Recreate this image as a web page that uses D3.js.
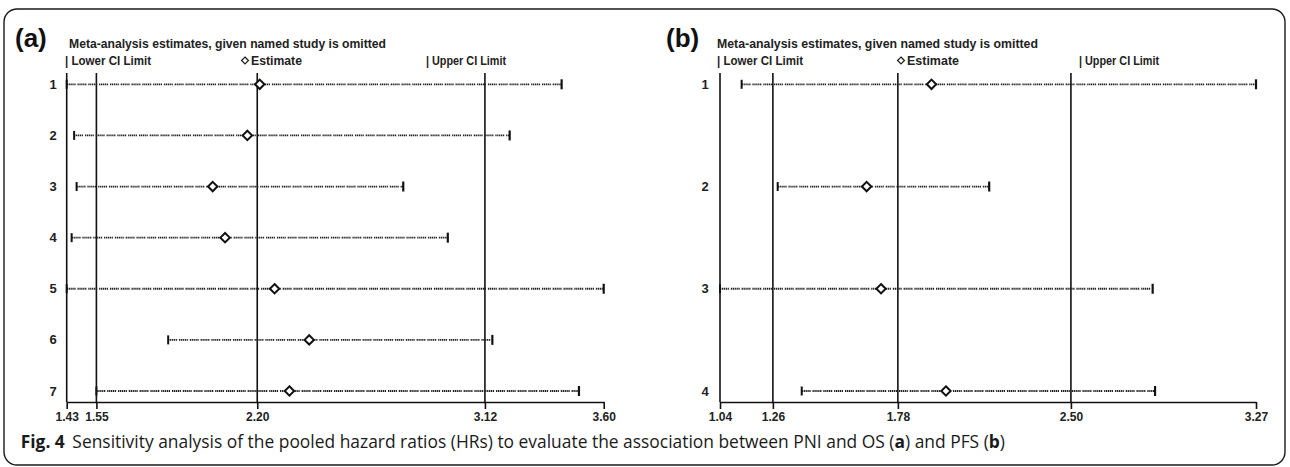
<!DOCTYPE html>
<html>
<head>
<meta charset="utf-8">
<script src="https://cdn.jsdelivr.net/npm/d3@7"></script>
<style>
  html, body { margin: 0; padding: 0; background: #fff; }
  svg { display: block; }
</style>
</head>
<body>
<svg id="chart" width="1290" height="467"></svg>
<script>
// ---------- DATA ----------
const studiesA = ["1", "2", "3", "4", "5", "6", "7"];
const lowerA   = [1.43, 1.46, 1.47, 1.45, 1.43, 1.84, 1.55];
const estA     = [2.21, 2.16, 2.02, 2.07, 2.27, 2.41, 2.33];
const upperA   = [3.43, 3.22, 2.79, 2.97, 3.60, 3.15, 3.50];
const ticksA   = [1.43, 1.55, 2.20, 3.12, 3.60];
const refsA    = [1.55, 2.20, 3.12];

const studiesB = ["1", "2", "3", "4"];
const lowerB   = [1.13, 1.28, 1.04, 1.38];
const estB     = [1.92, 1.65, 1.71, 1.98];
const upperB   = [3.27, 2.16, 2.84, 2.85];
const ticksB   = [1.04, 1.26, 1.78, 2.50, 3.27];
const refsB    = [1.26, 1.78, 2.50];

const headerText = "Meta-analysis estimates, given named study is omitted";
const legendLabels = ["Lower CI Limit", "Estimate", "Upper CI Limit"];

// ---------- DRAW ----------
const svg = d3.select("#chart");
const FONT = "'Liberation Sans', Arial, sans-serif";

// outer rounded frame
svg.append("rect")
  .attr("x", 4).attr("y", 9).attr("width", 1281).attr("height", 456)
  .attr("rx", 13).attr("ry", 13)
  .attr("fill", "none").attr("stroke", "#1a1a1a").attr("stroke-width", 1.4);

function panel(cfg) {
  const g = svg.append("g");
  const x = d3.scaleLinear().domain(cfg.domain).range(cfg.xRange);
  const y = d3.scalePoint().domain(cfg.studies).range([84.3, 391]);
  const top = 73, axisY = 402;

  // panel letter
  g.append("text").attr("x", cfg.letterX).attr("y", 47)
    .attr("font-family", FONT).attr("font-weight", "bold").attr("font-size", 26)
    .attr("fill", "#111").text(cfg.letter);

  // header
  g.append("text").attr("x", cfg.headX).attr("y", 48)
    .attr("font-family", FONT).attr("font-weight", "bold").attr("font-size", 12)
    .attr("fill", "#222")
    .attr("textLength", cfg.headW).attr("lengthAdjust", "spacingAndGlyphs")
    .text(headerText);

  // legend
  const leg = cfg.legend;
  g.append("text").attr("x", leg[0][0]).attr("y", 64.5)
    .attr("font-family", FONT).attr("font-weight", "bold").attr("font-size", 12).attr("fill", "#222")
    .attr("textLength", leg[0][1]).attr("lengthAdjust", "spacingAndGlyphs")
    .text("| " + legendLabels[0]);
  g.append("path")
    .attr("d", d3.symbol(d3.symbolDiamond2, 30)())
    .attr("transform", `translate(${leg[1][0] + 4},${60.5})`)
    .attr("fill", "#fff").attr("stroke", "#222").attr("stroke-width", 1.3);
  g.append("text").attr("x", leg[1][0] + 10).attr("y", 64.5)
    .attr("font-family", FONT).attr("font-weight", "bold").attr("font-size", 12).attr("fill", "#222")
    .attr("textLength", leg[1][1] - 10).attr("lengthAdjust", "spacingAndGlyphs")
    .text(legendLabels[1]);
  g.append("text").attr("x", leg[2][0]).attr("y", 64.5)
    .attr("font-family", FONT).attr("font-weight", "bold").attr("font-size", 12).attr("fill", "#222")
    .attr("textLength", leg[2][1]).attr("lengthAdjust", "spacingAndGlyphs")
    .text("| " + legendLabels[2]);

  // left axis line
  g.append("line")
    .attr("x1", x(cfg.domain[0])).attr("x2", x(cfg.domain[0]))
    .attr("y1", top).attr("y2", axisY)
    .attr("stroke", "#111").attr("stroke-width", 1.6);

  // reference lines
  g.selectAll(".ref").data(cfg.refs).join("line")
    .attr("x1", d => x(d)).attr("x2", d => x(d))
    .attr("y1", top).attr("y2", axisY)
    .attr("stroke", "#111").attr("stroke-width", 1.6);

  // bottom axis
  const ax = g.append("g").attr("transform", `translate(0,${axisY})`)
    .call(d3.axisBottom(x).tickValues(cfg.ticks).tickSize(7).tickSizeOuter(0)
      .tickFormat(d3.format(".2f")));
  ax.select(".domain").attr("stroke", "#111").attr("stroke-width", 1.6);
  ax.selectAll(".tick line").attr("stroke", "#111").attr("stroke-width", 1.6);
  ax.selectAll(".tick text")
    .attr("font-family", FONT).attr("font-weight", "bold").attr("font-size", 12)
    .attr("fill", "#222").attr("y", 10);

  // rows
  const rows = cfg.studies.map((s, i) => ({ s, lo: cfg.lower[i], est: cfg.est[i], hi: cfg.upper[i] }));
  const r = g.selectAll(".row").data(rows).join("g");

  r.append("line")
    .attr("x1", d => x(d.lo)).attr("x2", d => x(d.hi))
    .attr("y1", d => y(d.s)).attr("y2", d => y(d.s))
    .attr("stroke", "#222").attr("stroke-width", 1.8)
    .attr("stroke-dasharray", "1.3,0.6,1.3,0.6,1.3,0.6,1.3,0.6,1.3,1.9");

  r.append("line")
    .attr("x1", d => x(d.lo)).attr("x2", d => x(d.lo))
    .attr("y1", d => y(d.s) - 4.5).attr("y2", d => y(d.s) + 4.5)
    .attr("stroke", "#111").attr("stroke-width", 2);
  r.append("line")
    .attr("x1", d => x(d.hi)).attr("x2", d => x(d.hi))
    .attr("y1", d => y(d.s) - 5).attr("y2", d => y(d.s) + 5)
    .attr("stroke", "#111").attr("stroke-width", 2.2);

  r.append("path")
    .attr("d", d3.symbol(d3.symbolDiamond2, 56)())
    .attr("transform", d => `translate(${x(d.est)},${y(d.s)})`)
    .attr("fill", "#fff").attr("stroke", "#111").attr("stroke-width", 2);

  r.append("text")
    .attr("x", cfg.labelX).attr("y", d => y(d.s) + 4.5)
    .attr("text-anchor", "middle")
    .attr("font-family", FONT).attr("font-weight", "bold").attr("font-size", 13)
    .attr("fill", "#222").text(d => d.s);
}

panel({
  letter: "(a)", letterX: 15, headX: 69, headW: 317,
  legend: [[65, 86], [241, 61], [426, 80]],
  studies: studiesA, lower: lowerA, est: estA, upper: upperA,
  domain: [1.43, 3.60], xRange: [66.7, 603.7],
  ticks: ticksA, refs: refsA, labelX: 53
});

panel({
  letter: "(b)", letterX: 666, headX: 717, headW: 321,
  legend: [[717, 86], [897, 62], [1079, 80]],
  studies: studiesB, lower: lowerB, est: estB, upper: upperB,
  domain: [1.04, 3.27], xRange: [720, 1256],
  ticks: ticksB, refs: refsB, labelX: 705
});

// caption
const CAP_FONT = "'Open Sans', 'Noto Sans', sans-serif";
const capG = svg.append("g");
const probe = capG.append("text").attr("font-family", CAP_FONT).attr("font-size", 18.5)
  .text("Sensitivity analysis of the");
const probeW = probe.node().getComputedTextLength();
probe.remove();
const sx = 202 / probeW;
const cap = capG.append("text")
  .attr("font-family", CAP_FONT).attr("font-size", 18.5).attr("fill", "#1a1a1a")
  .attr("transform", `translate(20.7,447.7) scale(${sx},1)`);
cap.append("tspan").attr("font-weight", "bold").text("Fig. 4");
cap.append("tspan").attr("dx", 8).text("Sensitivity analysis of the pooled hazard ratios (HRs) to evaluate the association between PNI and OS (");
cap.append("tspan").attr("font-weight", "bold").text("a");
cap.append("tspan").text(") and PFS (");
cap.append("tspan").attr("font-weight", "bold").text("b");
cap.append("tspan").text(")");
</script>
</body>
</html>
